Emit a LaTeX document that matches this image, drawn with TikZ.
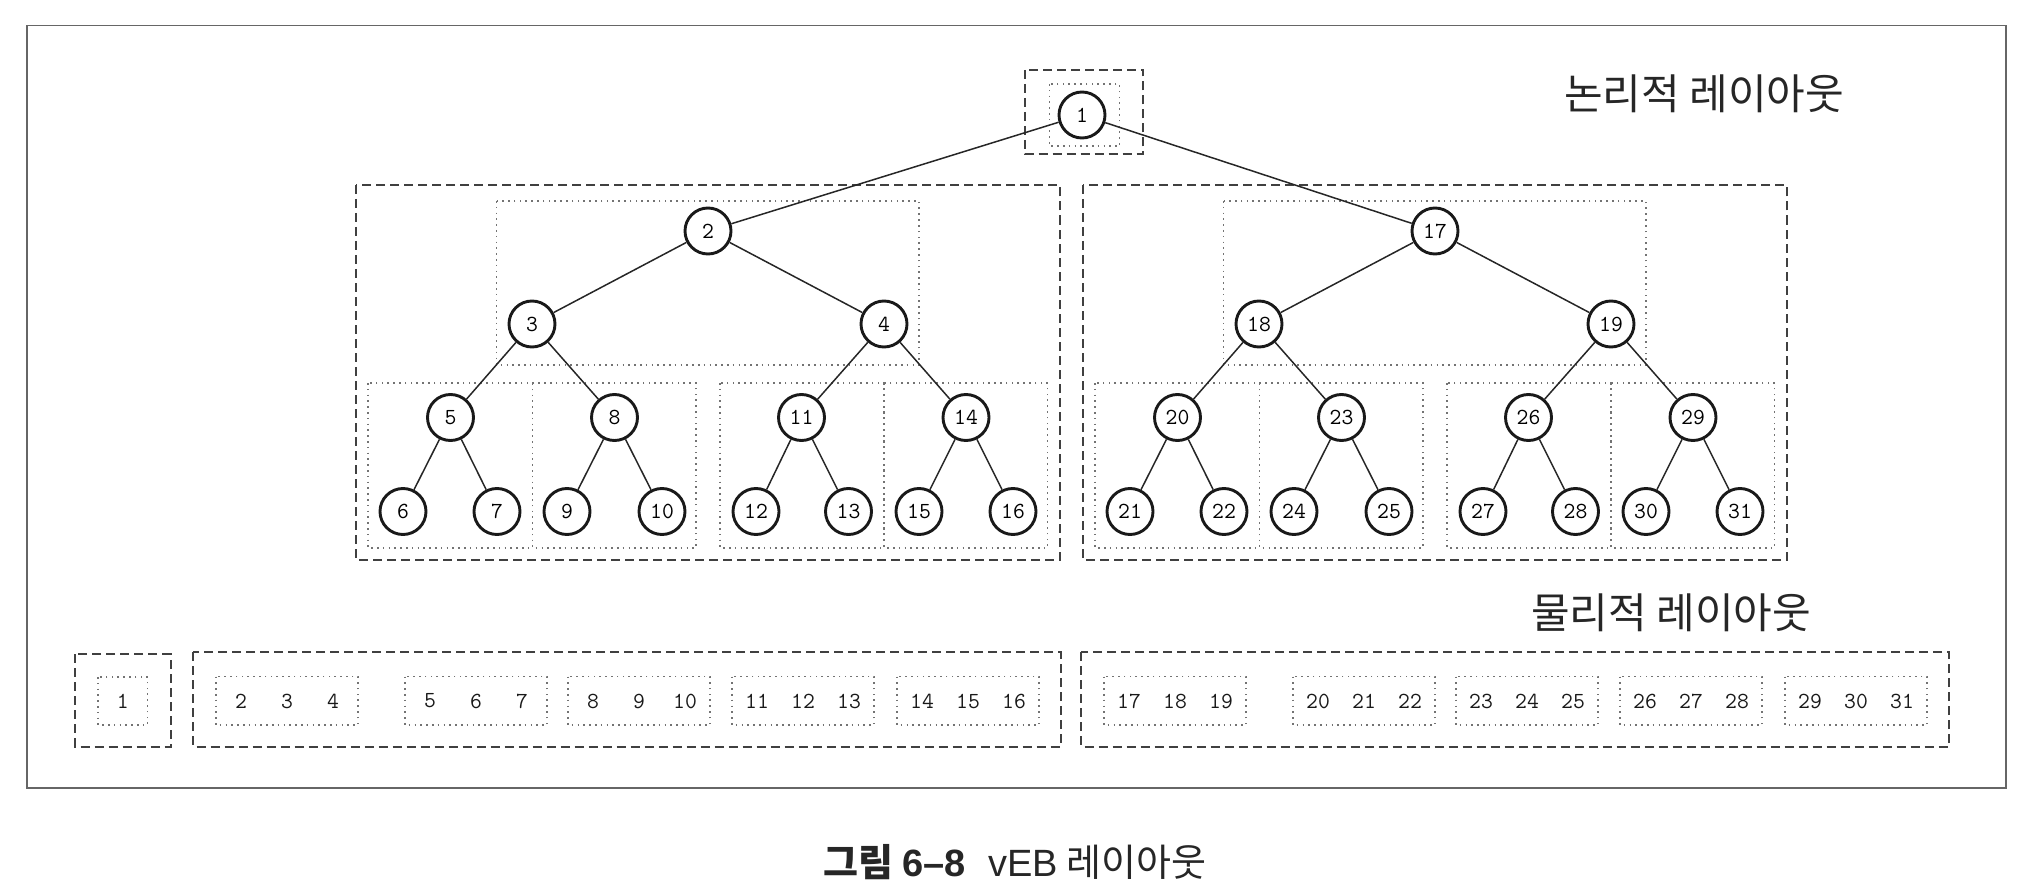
\documentclass[tikz,border=0pt]{standalone}
\usepackage{fontspec}
\newfontfamily\kr{Noto Sans CJK KR}
\newfontfamily\lat{Liberation Sans}
\begin{document}
\begin{tikzpicture}[x=1pt,y=-1pt,
  tn/.style={circle,draw=black!90,line width=2.9pt,minimum size=46pt,inner sep=0pt,fill=white,font=\ttfamily\fontsize{23}{23}\selectfont},
  ed/.style={line width=1.5pt,draw=black!85},
  dbox/.style={draw=black!75,line width=2pt,dash pattern=on 9pt off 5pt},
  obox/.style={draw=black!55,line width=1.6pt,dash pattern=on 1.6pt off 4.2pt},
  num/.style={font=\ttfamily\fontsize{23}{23}\selectfont,inner sep=0pt,text=black!90},
  lbl/.style={font=\kr\fontsize{42}{42}\selectfont,text=black!85,inner sep=0pt}
  ]
\useasboundingbox (0,0) rectangle (2030,896);
\draw[black!60,line width=1.5pt] (27,25.5) rectangle (2006,788);

% logical layout boxes
\draw[dbox] (1024.5,70) rectangle (1143,154);
\draw[obox] (1049.5,84) rectangle (1119.5,146);
\foreach \dx in {0,727}{
  \draw[dbox] (356+\dx,185) rectangle (1059.5+\dx,560);
  \draw[obox] (496.5+\dx,201) rectangle (919+\dx,365);
  \draw[obox] (368+\dx,383) rectangle (532.5+\dx,548);
  \draw[obox] (532.5+\dx,383) rectangle (696+\dx,548);
  \draw[obox] (720+\dx,383) rectangle (884+\dx,548);
  \draw[obox] (884+\dx,383) rectangle (1047.5+\dx,548);
}

% tree nodes
\foreach \n/\x/\y in {1/1082/115,
  2/708/231, 3/532/324, 4/884/324,
  5/450.5/417.5, 8/614.5/417.5, 11/801.5/417.5, 14/966/417.5,
  6/403/511.5, 7/497/511.5, 9/567/511.5, 10/662/511.5,
  12/756/511.5, 13/848.5/511.5, 15/919/511.5, 16/1013/511.5,
  17/1435/231, 18/1259/324, 19/1611/324,
  20/1177.5/417.5, 23/1341.5/417.5, 26/1528.5/417.5, 29/1693/417.5,
  21/1130/511.5, 22/1224/511.5, 24/1294/511.5, 25/1389/511.5,
  27/1483/511.5, 28/1575.5/511.5, 30/1646/511.5, 31/1740/511.5}
  \node[tn] (n\n) at (\x,\y) {\n};

\foreach \a/\b in {1/2,1/17,
  2/3,2/4,3/5,3/8,4/11,4/14,5/6,5/7,8/9,8/10,11/12,11/13,14/15,14/16,
  17/18,17/19,18/20,18/23,19/26,19/29,20/21,20/22,23/24,23/25,26/27,26/28,29/30,29/31}
  \draw[ed] (n\a) -- (n\b);

\node[lbl] (tlog) at (1704,94) {논리적 레이아웃};
\node[lbl] (tphy) at (1671,613) {물리적 레이아웃};

% physical layout
\draw[dbox] (75,654) rectangle (170.5,746.5);
\draw[obox] (98,677) rectangle (147.5,725);
\node[num] (p1) at (122.8,701) {1};
\draw[dbox] (193,652) rectangle (1060.5,746.5);
\draw[dbox] (1081,652) rectangle (1949,746.5);
\foreach \gx/\a/\b/\c in {216/2/3/4, 405/5/6/7, 568/8/9/10, 732/11/12/13, 897/14/15/16,
   1104/17/18/19, 1293/20/21/22, 1456/23/24/25, 1620/26/27/28, 1785/29/30/31}{
  \draw[obox] (\gx,676.5) rectangle (\gx+142,725);
  \node[num] (p\a) at (\gx+25,701) {\a};
  \node[num] (p\b) at (\gx+71,701) {\b};
  \node[num] (p\c) at (\gx+117,701) {\c};
}

\node[text=black!85,inner sep=0pt] (cap) at (1015,862)
  {\kr\fontsize{38}{38}\selectfont\bfseries 그림 {\lat\bfseries 6–8}\hspace{0.6em}\mdseries{\lat vEB} 레이아웃};
\end{tikzpicture}
\end{document}
